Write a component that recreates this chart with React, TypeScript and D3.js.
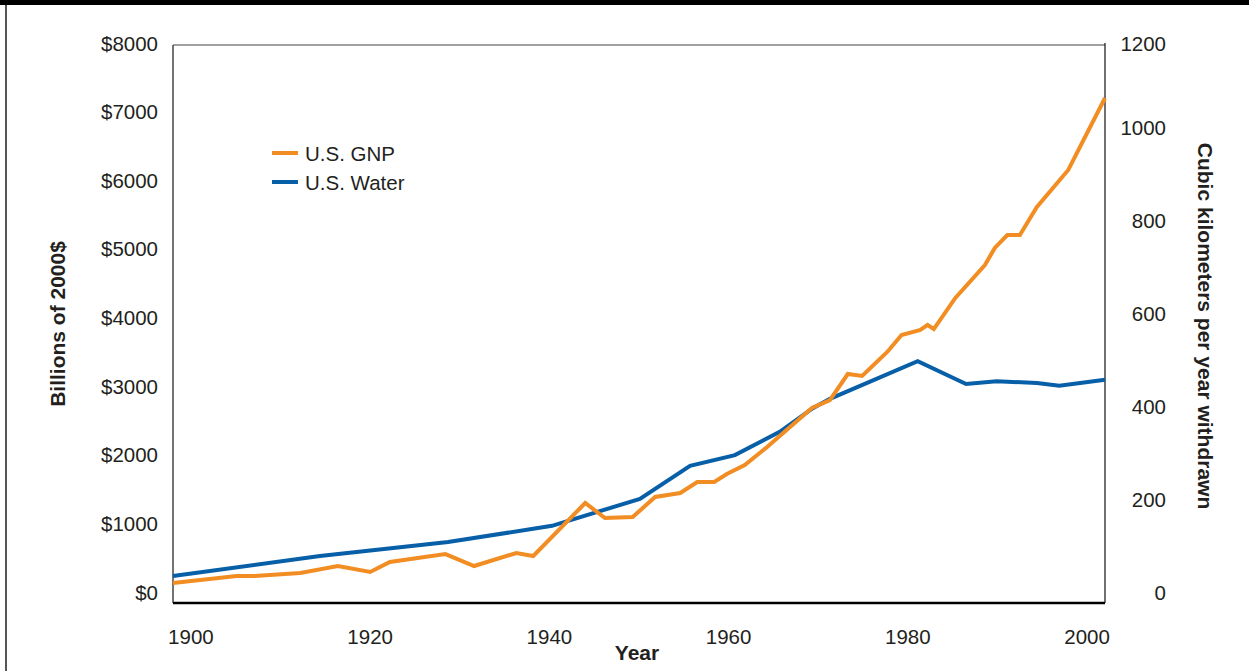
import React from "react";
import * as d3 from "d3";

const gnpYears = [1898.0, 1905.1, 1907.1, 1912.2, 1916.4, 1920.0, 1922.2, 1928.4, 1931.6, 1936.3, 1938.2, 1944.0, 1946.2, 1949.3, 1951.8, 1954.6, 1956.5, 1958.4, 1959.8, 1961.8, 1964.3, 1965.7, 1969.3, 1971.3, 1973.3, 1974.9, 1977.7, 1979.3, 1981.4, 1982.2, 1982.9, 1985.3, 1988.6, 1989.7, 1991.1, 1992.5, 1994.4, 1997.9, 2002.0];
const gnpValues = [287, 387, 387, 430, 530, 444, 588, 702, 530, 717, 674, 1434, 1219, 1233, 1520, 1577, 1735, 1735, 1850, 1979, 2237, 2394, 2796, 2910, 3283, 3255, 3599, 3842, 3914, 3986, 3928, 4373, 4846, 5090, 5276, 5276, 5677, 6208, 7240];

const waterYears = [1898.0, 1914.4, 1928.7, 1940.3, 1942.0, 1950.1, 1955.7, 1960.7, 1965.7, 1969.4, 1971.3, 1981.1, 1986.5, 1989.9, 1994.4, 1996.9, 2002.0];
const waterValues = [58, 101, 131, 166, 176, 224, 295, 318, 368, 419, 439, 520, 471, 477, 473, 467, 480];

const xTicks = [1900, 1920, 1940, 1960, 1980, 2000];
const leftTicks = [0, 1000, 2000, 3000, 4000, 5000, 6000, 7000, 8000];
const rightTicks = [0, 200, 400, 600, 800, 1000, 1200];

const seriesNames = ["U.S. GNP", "U.S. Water"];
const ORANGE = "#F18D22";
const BLUE = "#075FA8";

export default function App() {
  const W = 1249, H = 671;
  const L = 173, R = 1105, T = 45, B = 603;
  const x = d3.scaleLinear().domain([1898, 2002]).range([L, R]);
  const yL = d3.scaleLinear().domain([0, 8000]).range([B, T]);
  const yR = d3.scaleLinear().domain([0, 1200]).range([B, T]);
  // label positions (labels sit slightly above their gridline positions in the original)
  const yLLab = d3.scaleLinear().domain([0, 8000]).range([592, 43]);
  const yRLab = d3.scaleLinear().domain([0, 1000]).range([592, 127]);

  const gnpLine = d3.line<number>().x((_, i) => x(gnpYears[i])).y((d) => yL(d));
  const waterLine = d3.line<number>().x((_, i) => x(waterYears[i])).y((d) => yR(d));

  const font = "'Liberation Sans', Arial, Helvetica, sans-serif";
  const fs = 20.5;
  const fb = 21;

  return (
    <svg width={W} height={H} style={{ position: "absolute", left: 0, top: 0, background: "#fff" }} fontFamily={font}>
      <rect x={0} y={0} width={W} height={5} fill="#000" />
      <line x1={6} x2={6} y1={5} y2={H} stroke="#555" strokeWidth={2} />

      {/* frame */}
      <line x1={L} x2={R} y1={T} y2={T} stroke="#444" strokeWidth={1.2} />
      <line x1={L} x2={L} y1={T} y2={B} stroke="#444" strokeWidth={1.5} />
      <line x1={R} x2={R} y1={T - 2} y2={B} stroke="#111" strokeWidth={1.2} />

      <path d={waterLine(waterValues) || ""} fill="none" stroke={BLUE} strokeWidth={4} strokeLinejoin="miter" />
      <path d={gnpLine(gnpValues) || ""} fill="none" stroke={ORANGE} strokeWidth={4} strokeLinejoin="miter" />

      <line x1={L} x2={R} y1={B} y2={B} stroke="#000" strokeWidth={2.5} />

      {leftTicks.map((t) => (
        <text key={"l" + t} x={158} y={yLLab(t)} textAnchor="end" dominantBaseline="central" fontSize={fs} fill="#231f20">
          {"$" + t}
        </text>
      ))}
      {rightTicks.map((t) => (
        <text key={"r" + t} x={1166} y={Math.max(43, yRLab(t))} textAnchor="end" dominantBaseline="central" fontSize={fs} fill="#231f20">
          {t}
        </text>
      ))}
      {xTicks.map((t) => (
        <text key={"x" + t} x={x(t)} y={636} textAnchor="middle" dominantBaseline="central" fontSize={fs} fill="#231f20">
          {t}
        </text>
      ))}

      <text x={637} y={652} textAnchor="middle" dominantBaseline="central" fontSize={fb} fontWeight="bold" fill="#231f20">Year</text>
      <text transform={`translate(57,324) rotate(-90)`} textAnchor="middle" dominantBaseline="central" fontSize={fb} fontWeight="bold" fill="#231f20">
        Billions of 2000$
      </text>
      <text transform={`translate(1205,326) rotate(90)`} textAnchor="middle" dominantBaseline="central" fontSize={fb} fontWeight="bold" fill="#231f20">
        Cubic kilometers per year withdrawn
      </text>

      {seriesNames.map((n, i) => (
        <g key={n} transform={`translate(0,${153 + i * 29})`}>
          <line x1={272} x2={298} y1={0} y2={0} stroke={i === 0 ? ORANGE : BLUE} strokeWidth={4} />
          <text x={305} y={0} dominantBaseline="central" fontSize={fs} fill="#231f20">{n}</text>
        </g>
      ))}
    </svg>
  );
}
